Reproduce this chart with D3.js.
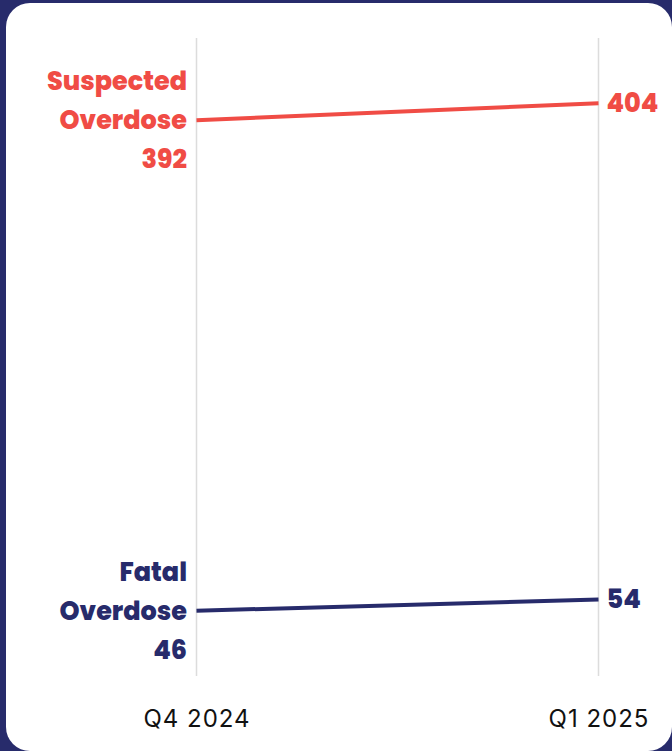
<!DOCTYPE html>
<html>
<head>
<meta charset="utf-8">
<script src="https://cdn.jsdelivr.net/npm/d3@7"></script>
<style>
  body { margin: 0; background: #272b6b; }
  svg { display: block; }
</style>
</head>
<body>
<div id="chart-area"></div>
<script>
// data
var periods = ["Q4 2024", "Q1 2025"];
var seriesNames = ["Suspected Overdose", "Fatal Overdose"];
var suspected = [392, 404];
var fatal = [46, 54];
var colors = ["#f04c45", "#272b6b"];

var width = 672, height = 751;

var svg = d3.select("#chart-area").append("svg")
    .attr("width", width)
    .attr("height", height);

// card
svg.append("rect")
    .attr("x", 6).attr("y", 3)
    .attr("width", width - 6).attr("height", height - 3)
    .attr("rx", 24)
    .attr("fill", "#fff");

var x = d3.scalePoint()
    .domain(periods)
    .range([196.5, 598.5]);

var y = d3.scaleLinear()
    .domain([0, 450])
    .range([676, 38]);

// vertical grid lines
svg.selectAll(".grid")
    .data(periods)
    .enter().append("line")
    .attr("class", "grid")
    .attr("x1", d => x(d)).attr("x2", d => x(d))
    .attr("y1", y(450)).attr("y2", y(0))
    .attr("stroke", "#dcdcdc")
    .attr("stroke-width", 1.5);

var font = "Poppins, 'Open Sans', sans-serif";

// axis labels
var bottomAxis = d3.axisBottom(x).tickSize(0).tickPadding(0);
var ax = svg.append("g")
    .attr("transform", "translate(0, 727)")
    .call(bottomAxis);
ax.select(".domain").remove();
ax.selectAll("text")
    .attr("dy", 0)
    .attr("font-family", "Inter, sans-serif")
    .attr("font-weight", 400)
    .attr("font-size", "24px")
    .attr("letter-spacing", "1px")
    .attr("fill", "#111");

var series = [
  {name: seriesNames[0], values: suspected, color: colors[0]},
  {name: seriesNames[1], values: fatal, color: colors[1]}
];

var line = d3.line()
    .x((d, i) => x(periods[i]))
    .y(d => y(d));

series.forEach(s => {
  svg.append("path")
      .attr("d", line(s.values))
      .attr("fill", "none")
      .attr("stroke", s.color)
      .attr("stroke-width", 4);

  // left label: name split in two lines + value
  var words = s.name.split(" ");
  var lines = [words[0], words[1], String(s.values[0])];
  var y0 = y(s.values[0]);
  svg.append("text")
      .attr("text-anchor", "end")
      .attr("font-family", font)
      .attr("font-weight", 800)
      .attr("font-size", "25.5px")
      .attr("fill", s.color)
      .selectAll("tspan")
      .data(lines)
      .enter().append("tspan")
      .attr("x", 187)
      .attr("y", (d, i) => y0 + (i - 1) * 39 + 9)
      .text(d => d);

  // right value
  svg.append("text")
      .attr("x", x(periods[1]) + 8)
      .attr("y", y(s.values[1]) + 9)
      .attr("font-family", font)
      .attr("font-weight", 800)
      .attr("font-size", "25.5px")
      .attr("fill", s.color)
      .text(s.values[1]);
});
</script>
</body>
</html>
